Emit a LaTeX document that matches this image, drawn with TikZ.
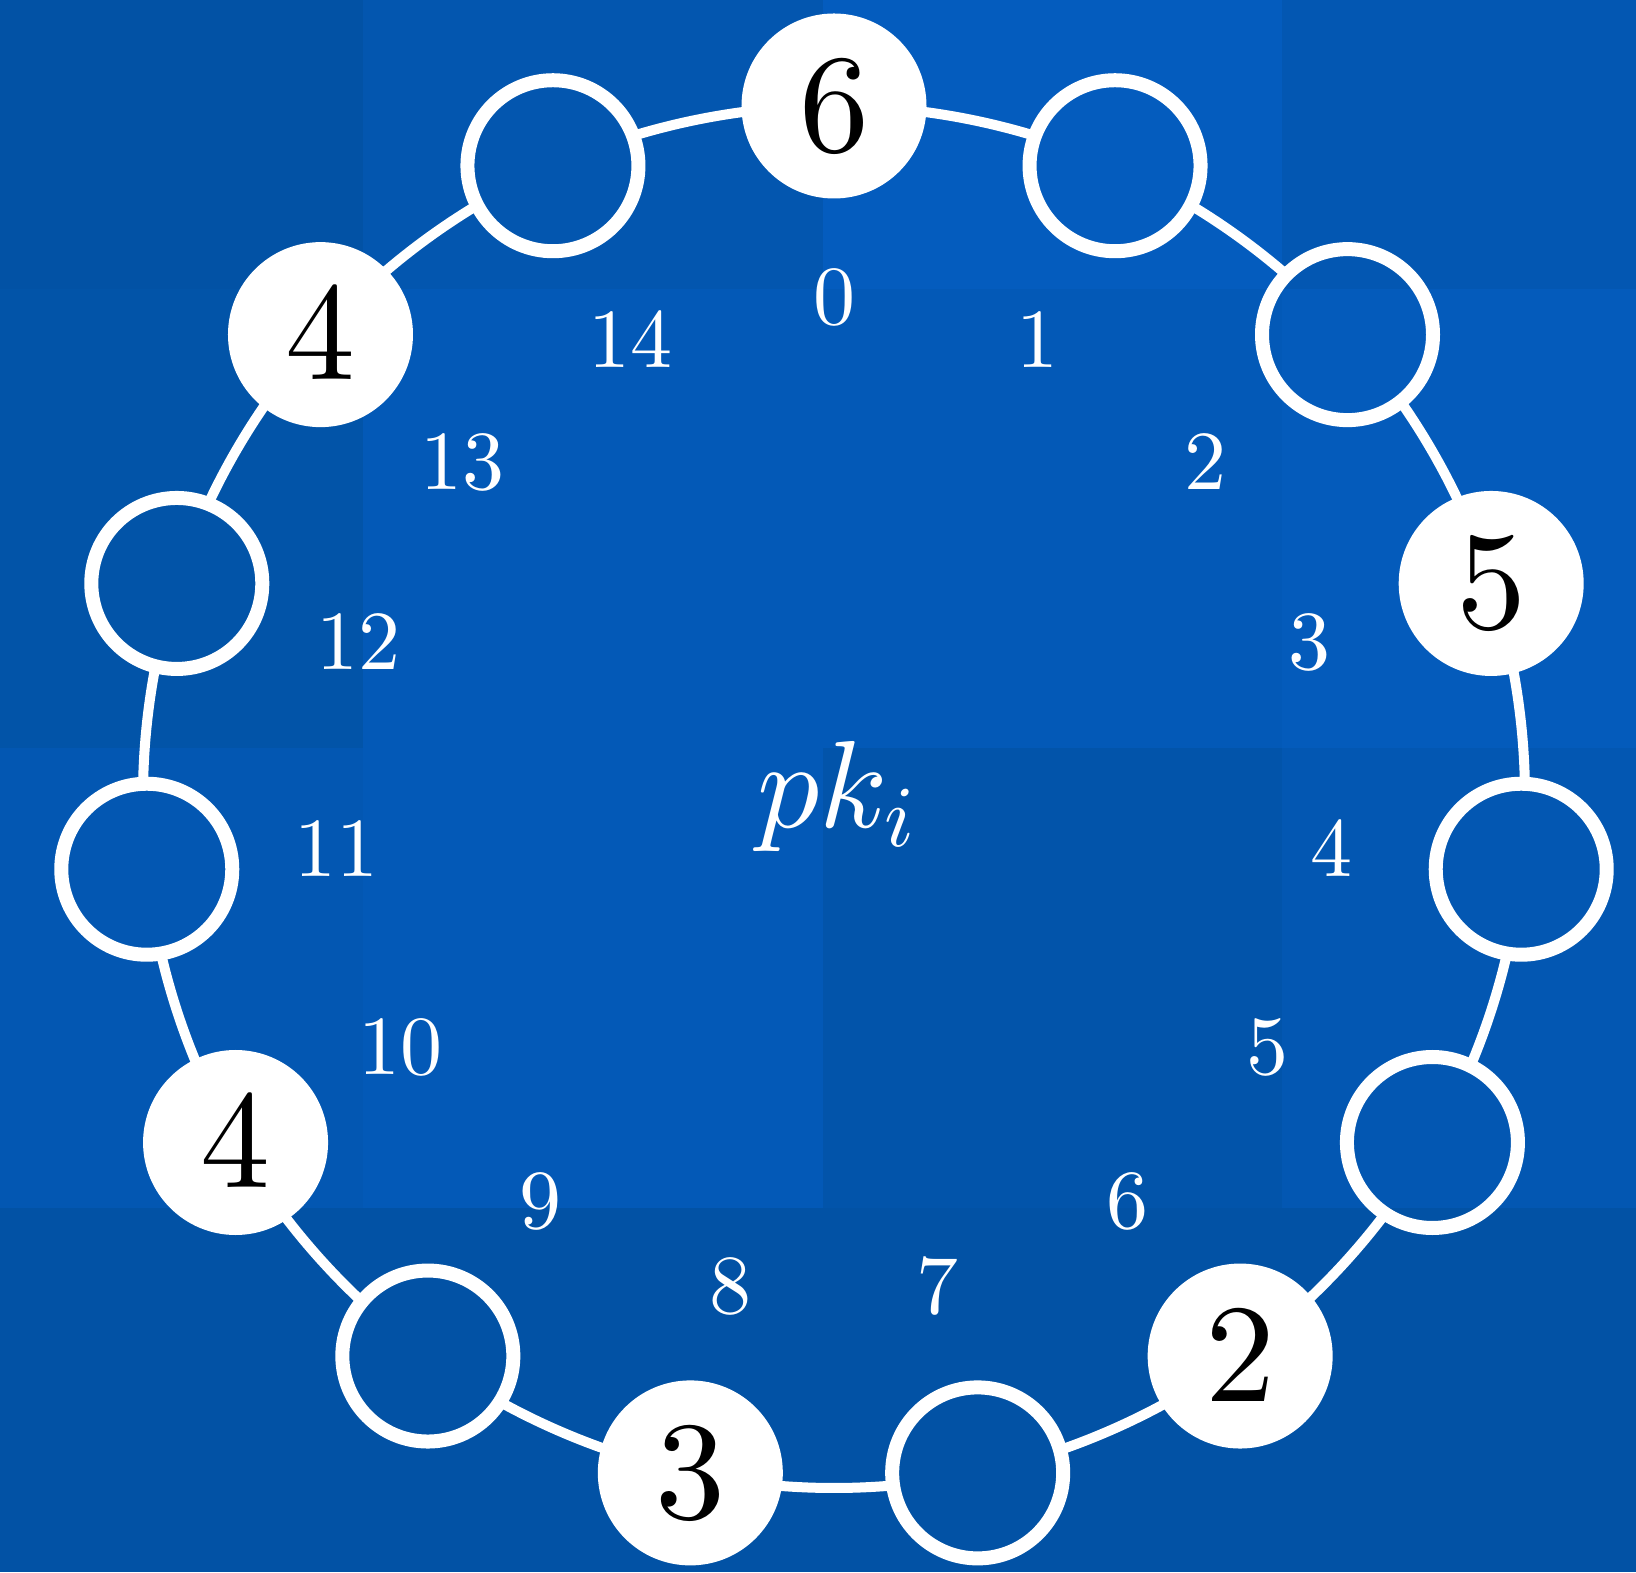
\documentclass[tikz,border=0pt]{standalone}
\DeclareFontShape{OML}{cmm}{m}{it}{<->cmmi10}{}
\DeclareFontShape{OMS}{cmsy}{m}{n}{<->cmsy10}{}
\DeclareFontShape{OT1}{cmr}{m}{n}{<->cmr10}{}
\definecolor{tA}{RGB}{2,82,165}
\definecolor{tB}{RGB}{3,86,175}
\definecolor{tC}{RGB}{4,92,190}
\definecolor{tD}{RGB}{3,87,178}
\definecolor{tE}{RGB}{2,84,168}
\definecolor{tF}{RGB}{3,89,183}
\definecolor{tG}{RGB}{4,91,187}
\definecolor{tH}{RGB}{2,84,170}
\begin{document}
\begin{tikzpicture}[x=0.5pt,y=0.5pt,
  ring/.style={draw=white,line width=5pt},
  slot/.style={circle,draw=white,line width=7pt,minimum size=85.5pt,inner sep=0pt},
  full/.style={slot,fill=white,text=black,font=\fontsize{70}{74}\selectfont},
  idx/.style={text=white,font=\fontsize{42}{46}\selectfont,inner sep=0pt}]
\useasboundingbox (-834,-775) rectangle (802,797);
% background tiles
\fill[tA] (-834,508) rectangle (-471,797);
\fill[tB] (-471,508) rectangle (-11,797);
\fill[tC] (-11,508) rectangle (448,797);
\fill[tD] (448,508) rectangle (802,797);
\fill[tE] (-834,49) rectangle (-471,508);
\fill[tF] (-471,49) rectangle (-11,508);
\fill[tF] (-11,49) rectangle (448,508);
\fill[tG] (448,49) rectangle (802,508);
\fill[tD] (-834,-411) rectangle (-471,49);
\fill[tF] (-471,-411) rectangle (-11,49);
\fill[tH] (-11,-411) rectangle (448,49);
\fill[tD] (448,-411) rectangle (802,49);
\fill[tA] (-834,-775) rectangle (802,-411);
% ring arcs between neighbouring nodes
\foreach \i in {0,...,14}{
  \coordinate (s\i) at ({90-24*\i-7}:691);
  \draw[ring] (s\i) arc[start angle={90-24*\i-7}, end angle={90-24*\i-17}, radius=691];
}
% nodes
\node[full] (n0) at (90:691) {$6$};
\node[slot] (n1) at (66:691) {};
\node[slot] (n2) at (42:691) {};
\node[full] (n3) at (18:691) {$5$};
\node[slot] (n4) at (-6:691) {};
\node[slot] (n5) at (-30:691) {};
\node[full] (n6) at (-54:691) {$2$};
\node[slot] (n7) at (-78:691) {};
\node[full] (n8) at (-102:691) {$3$};
\node[slot] (n9) at (-126:691) {};
\node[full] (n10) at (-150:691) {$4$};
\node[slot] (n11) at (-174:691) {};
\node[slot] (n12) at (-198:691) {};
\node[full] (n13) at (-222:691) {$4$};
\node[slot] (n14) at (-246:691) {};
% index labels
\foreach \i in {0,...,14}
  \node[idx] (l\i) at ({90-24*\i}:500) {$\i$};
% centre
\node[text=white,font=\fontsize{62}{70}\selectfont,inner sep=0pt] (pk) at (2,0) {$pk_i$};
\end{tikzpicture}
\end{document}
